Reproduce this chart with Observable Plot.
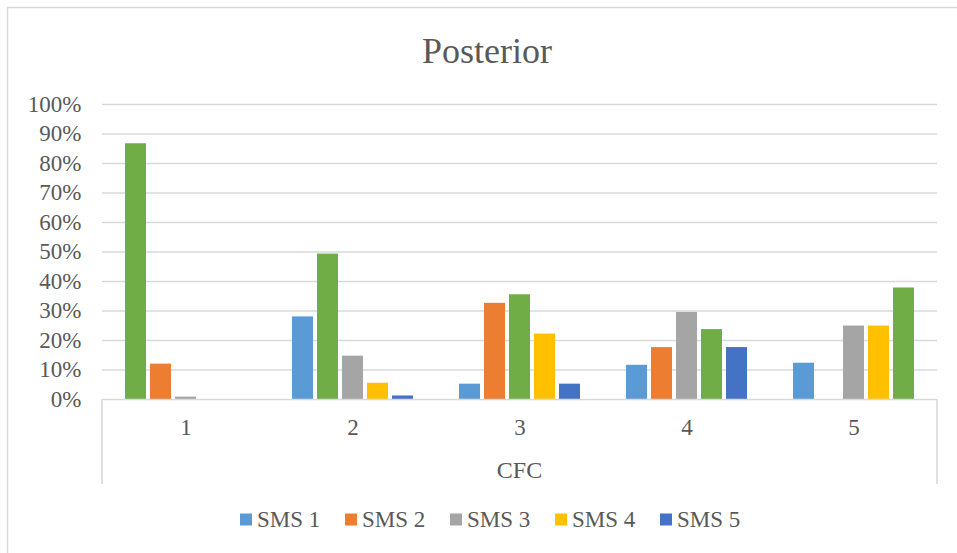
<!DOCTYPE html>
<html>
<head>
<meta charset="utf-8">
<script src="https://cdn.jsdelivr.net/npm/d3@7"></script>
<script src="https://cdn.jsdelivr.net/npm/@observablehq/plot@0.6"></script>
<style>
  html, body { margin: 0; padding: 0; background: #ffffff; }
  #chart { width: 957px; height: 553px; overflow: hidden; }
</style>
</head>
<body>
<div id="chart"></div>
<script>
// CFC groups along the x axis and SMS series within each group
const groups = ["1", "2", "3", "4", "5"];
const series = ["SMS 1", "SMS 2", "SMS 3", "SMS 4", "SMS 5"];
const seriesColors = ["#5b9bd5", "#ed7d31", "#a5a5a5", "#ffc000", "#4472c4"];
const matchColor = "#70ad47"; // bar where the SMS number equals the CFC group

// posterior share per series, one value per CFC group
const sms1 = [0.867, 0.280, 0.052, 0.116, 0.123];
const sms2 = [0.120, 0.493, 0.326, 0.176, 0.000];
const sms3 = [0.008, 0.147, 0.355, 0.295, 0.249];
const sms4 = [0.000, 0.055, 0.222, 0.237, 0.249];
const sms5 = [0.000, 0.012, 0.052, 0.176, 0.378];
const yTicks = [0, 0.1, 0.2, 0.3, 0.4, 0.5, 0.6, 0.7, 0.8, 0.9, 1.0];

const title = "Posterior";
const axisTitle = "CFC";

const valuesBySeries = [sms1, sms2, sms3, sms4, sms5];
const rows = [];
series.forEach((s, si) => {
  groups.forEach((g, gi) => {
    rows.push({
      group: g,
      series: s,
      value: valuesBySeries[si][gi],
      key: si === gi ? "match" : s
    });
  });
});

const textColor = "#595959";
const lineColor = "#d9d9d9";
const font = "'Liberation Serif', 'Times New Roman', serif";

const chart = Plot.plot({
  width: 957,
  height: 553,
  marginLeft: 101,
  marginRight: 19,
  marginTop: 104,
  marginBottom: 154,
  style: {
    fontFamily: font,
    fontSize: "23px",
    color: textColor,
    background: "#ffffff",
    overflow: "visible"
  },
  fx: {
    domain: groups,
    padding: 0,
    label: null,
    axis: "bottom",
    tickSize: 0,
    tickPadding: 19
  },
  x: {
    domain: series,
    paddingInner: 0.17,
    paddingOuter: 0.8,
    axis: null
  },
  y: {
    domain: [0, 1],
    ticks: yTicks,
    tickFormat: d3.format(".0%"),
    tickSize: 0,
    tickPadding: 21,
    label: null,
    grid: false
  },
  color: {
    domain: [...series, "match"],
    range: [...seriesColors, matchColor]
  },
  marks: [
    Plot.ruleY(yTicks.slice(1), { stroke: lineColor, strokeWidth: 1.4 }),
    Plot.barY(rows, {
      fx: "group",
      x: "series",
      y: "value",
      fill: "key"
    }),
    Plot.ruleY([0], { stroke: lineColor, strokeWidth: 1.6 })
  ]
});

document.getElementById("chart").appendChild(chart);

// decorations drawn in the same SVG: outer border, axis box, titles, legend
const svg = d3.select(chart);
const fx = chart.scale("fx");
const y = chart.scale("y");
const left = fx.apply(groups[0]);
const right = fx.apply(groups[groups.length - 1]) + fx.bandwidth;
const base = y.apply(0);

svg.append("path")
  .attr("d", "M7.5,553V7.5H957")
  .attr("fill", "none")
  .attr("stroke", lineColor)
  .attr("stroke-width", 1.5);

svg.append("path")
  .attr("d", `M${left},${base}V${base + 85}M${right},${base}V${base + 85}`)
  .attr("fill", "none")
  .attr("stroke", lineColor)
  .attr("stroke-width", 1.6);

svg.append("text")
  .attr("x", 487)
  .attr("y", 62.5)
  .attr("text-anchor", "middle")
  .attr("fill", textColor)
  .style("font-family", font)
  .style("font-size", "36px")
  .text(title);

svg.append("text")
  .attr("x", (left + right) / 2)
  .attr("y", 478)
  .attr("text-anchor", "middle")
  .attr("fill", textColor)
  .style("font-family", font)
  .style("font-size", "24px")
  .text(axisTitle);

const legend = svg.append("g").attr("text-anchor", "start");
series.forEach((s, i) => {
  const x0 = 240 + i * 105;
  legend.append("rect")
    .attr("x", x0)
    .attr("y", 513.5)
    .attr("width", 12)
    .attr("height", 12)
    .attr("fill", seriesColors[i]);
  legend.append("text")
    .attr("x", x0 + 17)
    .attr("y", 527)
    .attr("text-anchor", "start")
    .attr("fill", textColor)
    .style("font-family", font)
    .style("font-size", "23px")
    .text(s);
});
</script>
</body>
</html>
